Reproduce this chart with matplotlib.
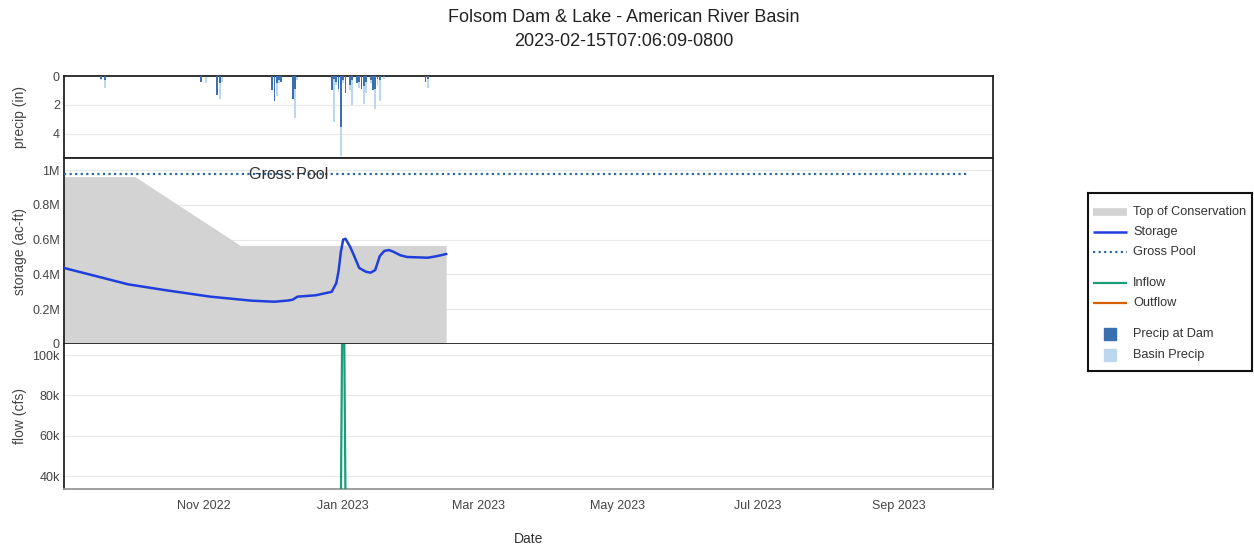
import numpy as np
import pandas as pd
import matplotlib
matplotlib.use("Agg")
import matplotlib.pyplot as plt
import matplotlib.dates as mdates
from matplotlib.ticker import FixedLocator

plt.rcParams['font.family'] = ['Liberation Sans', 'DejaVu Sans']

# storage (ac-ft)
storage_dates = ["2022-09-01", "2022-09-15", "2022-09-29", "2022-10-15", "2022-11-04",
                 "2022-11-22", "2022-12-02", "2022-12-08", "2022-12-10", "2022-12-12",
                 "2022-12-20", "2022-12-27", "2022-12-29", "2022-12-30", "2022-12-31",
                 "2023-01-01", "2023-01-02", "2023-01-04", "2023-01-06", "2023-01-08",
                 "2023-01-11", "2023-01-13", "2023-01-15", "2023-01-17", "2023-01-19",
                 "2023-01-21", "2023-01-23", "2023-01-26", "2023-01-29", "2023-02-07",
                 "2023-02-11", "2023-02-15"]
storage = [437000, 390000, 343000, 310000, 272000,
           249000, 243000, 250000, 255000, 272000,
           280000, 300000, 350000, 420000, 530000,
           600000, 605000, 560000, 500000, 437000,
           415000, 410000, 425000, 505000, 535000,
           540000, 530000, 510000, 500000, 496000,
           505000, 517000]

# top of conservation (ac-ft)
toc_dates = ["2022-09-01", "2022-10-02", "2022-11-17", "2023-02-15"]
toc = [962000, 962000, 567000, 567000]

gross_pool_dates = ["2022-09-01", "2023-10-01"]
gross_pool = [977000, 977000]

# flow (cfs)
inflow_dates = ["2022-09-01", "2022-10-01", "2022-11-08", "2022-12-01", "2022-12-11",
                "2022-12-27", "2022-12-31", "2023-01-01", "2023-01-02", "2023-01-10",
                "2023-02-01", "2023-02-15"]
inflow = [1500, 1200, 5000, 2500, 8000,
          20000, 25000, 180000, 30000, 15000,
          5000, 4000]
outflow_dates = ["2022-09-01", "2022-11-01", "2023-01-01", "2023-01-10", "2023-02-15"]
outflow = [2000, 1500, 4000, 20000, 3000]

# precip (in)
precip_dates = ["2022-09-17", "2022-09-19", "2022-10-31", "2022-11-02", "2022-11-07",
                "2022-11-08", "2022-11-09", "2022-12-01", "2022-12-02", "2022-12-03",
                "2022-12-04", "2022-12-05", "2022-12-10", "2022-12-11", "2022-12-12",
                "2022-12-27", "2022-12-28", "2022-12-29", "2022-12-30", "2022-12-31",
                "2023-01-01", "2023-01-02", "2023-01-04", "2023-01-05", "2023-01-07",
                "2023-01-08", "2023-01-09", "2023-01-10", "2023-01-11", "2023-01-13",
                "2023-01-14", "2023-01-15", "2023-01-16", "2023-01-17", "2023-01-19",
                "2023-02-06", "2023-02-07"]
dam_precip = [0.2, 0.3, 0.4, 0.0, 1.3,
              0.5, 0.0, 1.0, 1.7, 0.5,
              0.3, 0.4, 1.6, 0.9, 0.0,
              1.0, 0.2, 0.4, 0.9, 3.5,
              0.3, 1.2, 0.6, 0.3, 0.5,
              0.4, 0.9, 0.7, 0.4, 0.3,
              1.0, 0.9, 0.2, 0.3, 0.1,
              0.4, 0.2]
basin_precip = [0.3, 0.8, 0.3, 0.5, 0.9,
                1.6, 0.4, 0.6, 1.2, 1.4,
                0.5, 0.3, 0.8, 2.9, 0.3,
                0.6, 3.2, 0.6, 1.1, 5.5,
                0.5, 0.7, 1.0, 2.0, 0.4,
                0.8, 0.6, 1.9, 1.2, 0.5,
                1.0, 2.3, 0.7, 1.7, 0.2,
                0.3, 0.8]

tick_dates = ["2022-11-01", "2023-01-01", "2023-03-01", "2023-05-01", "2023-07-01", "2023-09-01"]

x_start = pd.Timestamp("2022-09-01")
x_end = pd.Timestamp("2023-10-12")

c_storage = '#1f3fdc'
c_gross = '#2a6a9e'
c_toc = '#d3d3d3'
c_inflow = '#1b9e77'
c_outflow = '#d95f02'
c_dam = '#3a70b0'
c_basin = '#bcd8ee'

fig = plt.figure(figsize=(12.54, 5.5), dpi=100)
left, width = 64 / 1254, 929 / 1254
ax_p = fig.add_axes([left, 1 - 158 / 550, width, 82 / 550])
ax_s = fig.add_axes([left, 1 - 344 / 550, width, 186 / 550], sharex=ax_p)
ax_f = fig.add_axes([left, 1 - 489 / 550, width, 145 / 550], sharex=ax_p)

# precip panel
pd_dates = pd.to_datetime(precip_dates)
ax_p.bar(pd_dates, basin_precip, width=0.8, color=c_basin, align='center', zorder=2)
ax_p.bar(pd_dates, dam_precip, width=0.8, color=c_dam, align='center', zorder=3)
ax_p.set_ylim(5.66, 0)
ax_p.yaxis.set_major_locator(FixedLocator([0, 2, 4]))
ax_p.set_ylabel("precip (in)", fontsize=10, color='#444444')

# storage panel
ax_s.fill_between(pd.to_datetime(toc_dates), 0, toc, color=c_toc, lw=0, zorder=1)
ax_s.plot(pd.to_datetime(gross_pool_dates), gross_pool, color=c_gross, lw=1.6,
          linestyle=(0, (1, 1.5)), zorder=3)
ax_s.plot(pd.to_datetime(storage_dates), storage, color=c_storage, lw=1.8, zorder=4)
ax_s.text(pd.Timestamp("2022-12-08"), 977000, "Gross Pool", ha='center', va='center',
          fontsize=11.5, color='#333333', zorder=5)
ax_s.set_ylim(0, 1069000)
ax_s.yaxis.set_major_locator(FixedLocator([0, 200000, 400000, 600000, 800000, 1000000]))
ax_s.set_yticklabels(["0", "0.2M", "0.4M", "0.6M", "0.8M", "1M"])
ax_s.set_ylabel("storage (ac-ft)", fontsize=10, color='#444444')

# flow panel
ax_f.plot(pd.to_datetime(inflow_dates), inflow, color=c_inflow, lw=1.6, zorder=3)
ax_f.plot(pd.to_datetime(outflow_dates), outflow, color=c_outflow, lw=1.6, zorder=2)
ax_f.set_ylim(33600, 105500)
ax_f.yaxis.set_major_locator(FixedLocator([40000, 60000, 80000, 100000]))
ax_f.set_yticklabels(["40k", "60k", "80k", "100k"])
ax_f.set_ylabel("flow (cfs)", fontsize=10, color='#444444')
ax_f.set_xlabel("Date", fontsize=10, color='#333333')
ax_f.xaxis.set_label_coords(0.5, -43 / 145)

ax_f.set_xlim(x_start, x_end)
ax_f.xaxis.set_major_locator(FixedLocator(mdates.date2num(pd.to_datetime(tick_dates))))
ax_f.xaxis.set_major_formatter(mdates.DateFormatter("%b %Y"))

for ax in (ax_p, ax_s, ax_f):
    ax.grid(axis='y', color='#e8e8e8', lw=0.8, zorder=0)
    ax.set_axisbelow(True)
    ax.tick_params(axis='y', length=0, labelsize=9, colors='#444444', pad=3)
    ax.tick_params(axis='x', length=0)
    ax.yaxis.set_label_coords(-37 / 929, 0.5)
    for sp in ax.spines.values():
        sp.set_color('#222222')
        sp.set_linewidth(1.3)
ax_p.tick_params(axis='x', labelbottom=False)
ax_s.tick_params(axis='x', labelbottom=False)
ax_f.tick_params(axis='x', labelsize=9, colors='#444444', pad=8)
ax_f.spines['bottom'].set_color('#999999')
ax_f.spines['top'].set_visible(False)

fig.text(624 / 1254, 1 - 17 / 550, "Folsom Dam & Lake - American River Basin",
         ha='center', va='center', fontsize=13, color='#222222')
fig.text(624 / 1254, 1 - 41 / 550, "2023-02-15T07:06:09-0800",
         ha='center', va='center', fontsize=13, color='#222222')

# legend box, laid out in pixel units inside its own axes
ax_l = fig.add_axes([1088 / 1254, 1 - 371 / 550, 164 / 1254, 178 / 550])
ax_l.set_xlim(0, 164)
ax_l.set_ylim(178, 0)
ax_l.set_xticks([])
ax_l.set_yticks([])
for sp in ax_l.spines.values():
    sp.set_color('#111111')
    sp.set_linewidth(1.5)

leg_labels = ["Top of Conservation", "Storage", "Gross Pool", "Inflow", "Outflow",
              "Precip at Dam", "Basin Precip"]
leg_rows = [19, 39, 59, 90, 110, 141, 162]
leg_styles = [
    dict(color=c_toc, lw=5.5, linestyle='-'),
    dict(color=c_storage, lw=1.8, linestyle='-'),
    dict(color=c_gross, lw=1.6, linestyle=(0, (1, 1.5))),
    dict(color=c_inflow, lw=1.6, linestyle='-'),
    dict(color=c_outflow, lw=1.6, linestyle='-'),
    None,
    None,
]
leg_fills = [None, None, None, None, None, c_dam, c_basin]
for lab, yy, st, fc in zip(leg_labels, leg_rows, leg_styles, leg_fills):
    if st is not None:
        ax_l.plot([5, 39], [yy, yy], solid_capstyle='butt', **st)
    else:
        ax_l.plot([22], [yy], marker='s', markersize=9, color=fc, linestyle='none')
    ax_l.text(45, yy, lab, ha='left', va='center', fontsize=9.2, color='#333333')

fig.savefig("out.png", dpi=100)
